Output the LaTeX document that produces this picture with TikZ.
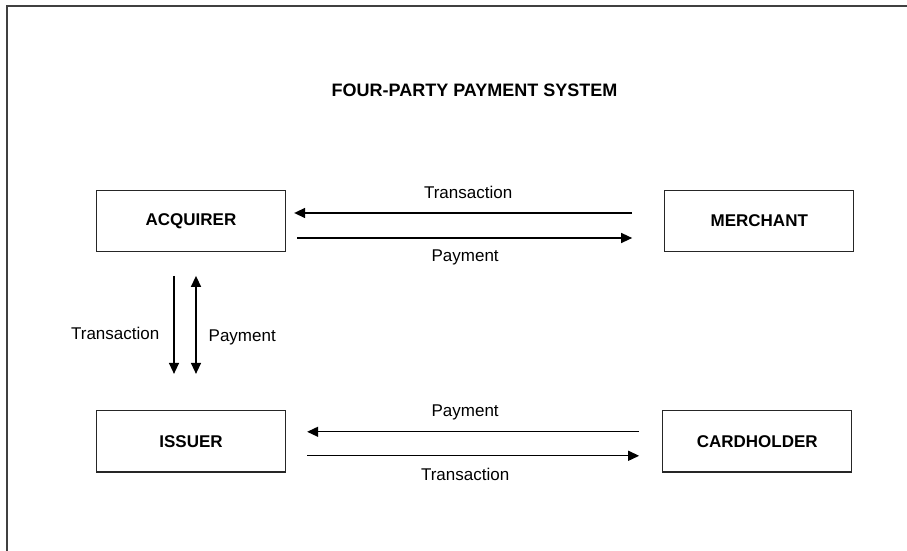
\documentclass[tikz,border=0pt]{standalone}
\usepackage{fontspec}
\setmainfont{Liberation Sans}
\usepackage{tikz}
\usetikzlibrary{arrows.meta,positioning}

\begin{document}
\begin{tikzpicture}[
    x=1pt, y=1pt,
    party/.style={rectangle, draw=black!85, line width=1.3pt, minimum width=189pt, minimum height=61.5pt, font=\fontsize{17}{20}\selectfont\bfseries},
    flowlabel/.style={font=\fontsize{17}{20}\selectfont, inner sep=0pt, text height=12.2pt, text depth=0pt},
    arrow/.style={line width=1.4pt, -{Triangle[length=11pt,width=10pt]}},
    twoway/.style={line width=1.4pt, {Triangle[length=11pt,width=10pt]}-{Triangle[length=11pt,width=10pt]}}
]
\useasboundingbox (0,0) rectangle (907,551);

% Frame
\draw[line width=1.5pt, black!75] (7,0) -- (7,545) -- (907,545);

% Title
\node[font=\fontsize{18}{22}\selectfont\bfseries, inner sep=0pt, text height=13pt, text depth=0pt] (title) at (474.5,461) {FOUR-PARTY PAYMENT SYSTEM};

% Parties
\node[party] (acquirer) at (191,330) {ACQUIRER};
\node[party, right=378pt of acquirer] (merchant) {MERCHANT};
\node[party, below=157.5pt of acquirer] (issuer) {ISSUER};
\node[party, right=376pt of issuer] (cardholder) {CARDHOLDER};

% Acquirer <-> Merchant
\draw[arrow, shorten <=32pt, shorten >=8pt] ([yshift=8pt]merchant.west) -- ([yshift=8pt]acquirer.east)
    node[flowlabel, midway, above=14pt, xshift=-7pt] (acqtrans) {Transaction};
\draw[arrow, shorten <=11pt, shorten >=32pt] ([yshift=-17pt]acquirer.east) -- ([yshift=-17pt]merchant.west)
    node[flowlabel, midway, below=11pt, xshift=-10pt] (acqpay) {Payment};

% Acquirer <-> Issuer
\draw[arrow, shorten <=23.5pt, shorten >=36pt] ([xshift=-17pt]acquirer.south) -- ([xshift=-17pt]issuer.north)
    node[flowlabel, midway, left=14pt, yshift=-2pt] (midtrans) {Transaction};
\draw[twoway, shorten <=23.5pt, shorten >=36pt] ([xshift=5pt]acquirer.south) -- ([xshift=5pt]issuer.north)
    node[flowlabel, midway, right=12pt, yshift=-4pt] (midpay) {Payment};

% Issuer <-> Cardholder
\draw[arrow, shorten <=23pt, shorten >=21pt] ([yshift=9.5pt]cardholder.west) -- ([yshift=9.5pt]issuer.east)
    node[flowlabel, midway, above=15pt, xshift=-9pt] (isspay) {Payment};
\draw[arrow, shorten <=21pt, shorten >=23pt] ([yshift=-14.5pt]issuer.east) -- ([yshift=-14.5pt]cardholder.west)
    node[flowlabel, midway, below=12pt, xshift=-9pt] (isstrans) {Transaction};

\end{tikzpicture}
\end{document}
